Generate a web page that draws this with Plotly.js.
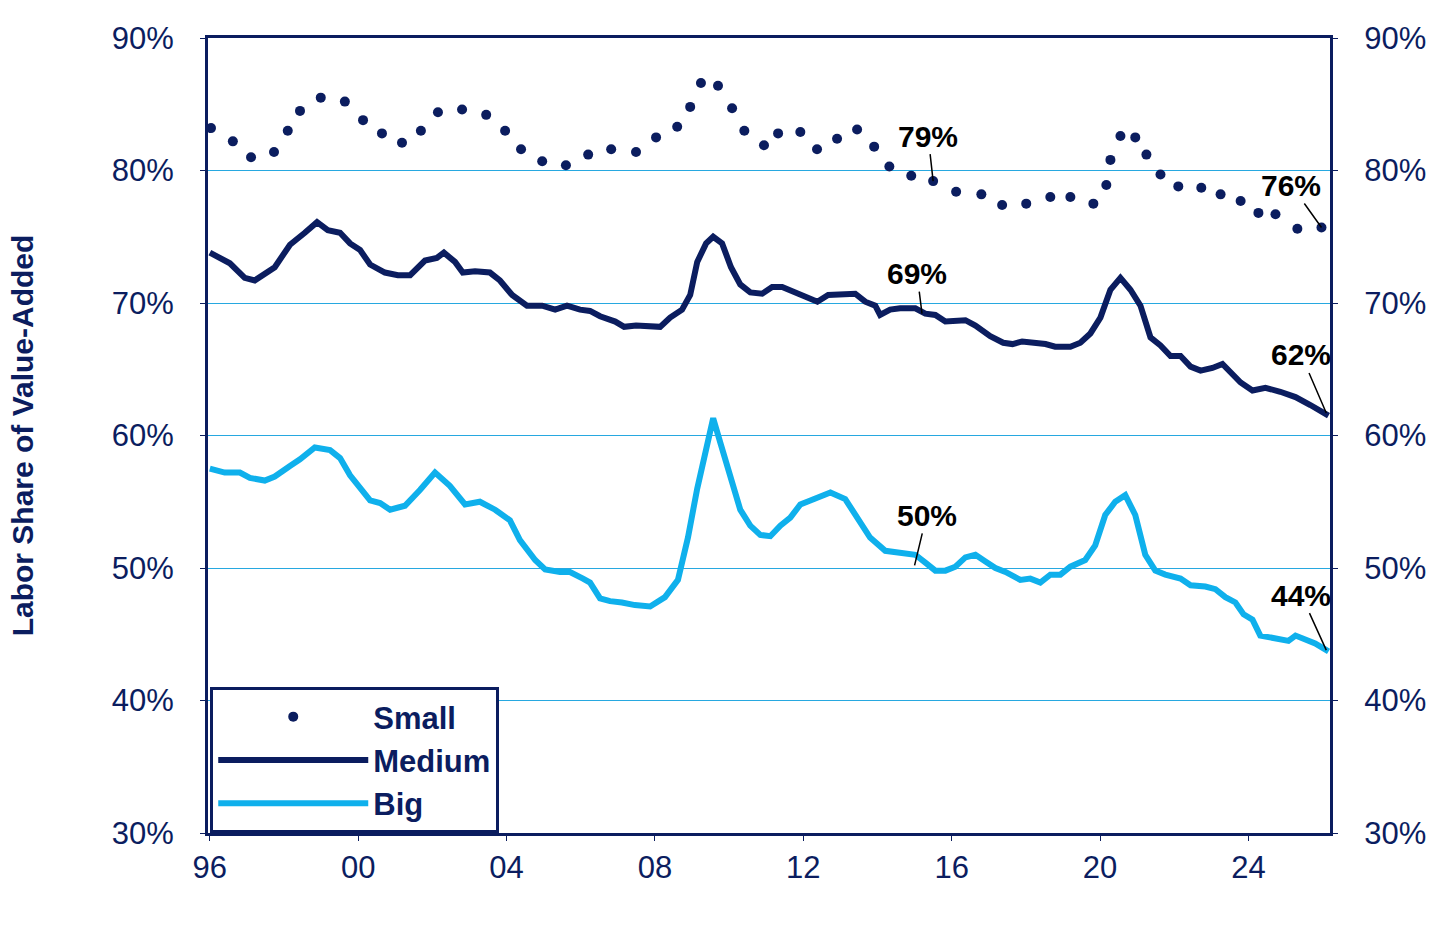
<!DOCTYPE html>
<html>
<head>
<meta charset="utf-8">
<script src="https://cdn.plot.ly/plotly-3.0.1.min.js"></script>
<style>body{margin:0;background:#fff}#chart{width:1456px;height:941px}</style>
</head>
<body>
<div id="chart"></div>
<script>
// labor share of value-added, by firm size
const smallYears = [1996.03,1996.62,1997.11,1997.73,1998.10,1998.43,1998.99,1999.64,2000.13,2000.64,2001.18,2001.69,2002.15,2002.80,2003.45,2003.96,2004.39,2004.96,2005.60,2006.20,2006.82,2007.49,2008.03,2008.60,2008.95,2009.24,2009.70,2010.08,2010.41,2010.94,2011.32,2011.92,2012.37,2012.91,2013.45,2013.91,2014.32,2014.91,2015.50,2016.12,2016.80,2017.36,2018.01,2018.66,2019.20,2019.82,2020.17,2020.28,2020.55,2020.95,2021.25,2021.63,2022.11,2022.73,2023.25,2023.79,2024.27,2024.73,2025.32,2025.97];
const smallVals = [83.2,82.2,81.0,81.4,83.0,84.5,85.5,85.2,83.8,82.8,82.1,83.0,84.4,84.6,84.2,83.0,81.6,80.7,80.4,81.2,81.6,81.4,82.5,83.3,84.8,86.6,86.4,84.7,83.0,81.9,82.8,82.9,81.6,82.4,83.1,81.8,80.3,79.6,79.2,78.4,78.2,77.4,77.5,78.0,78.0,77.5,78.9,80.8,82.6,82.5,81.2,79.7,78.8,78.7,78.2,77.7,76.8,76.7,75.6,75.7];

const mediumYears = [1996.00,1996.54,1996.94,1997.21,1997.75,1998.16,1998.56,1998.89,1999.18,1999.51,1999.78,2000.05,2000.32,2000.72,2001.07,2001.40,2001.80,2002.12,2002.31,2002.61,2002.82,2003.15,2003.55,2003.82,2004.15,2004.55,2004.96,2005.31,2005.63,2005.98,2006.25,2006.52,2006.93,2007.17,2007.49,2007.87,2008.14,2008.41,2008.73,2008.95,2009.14,2009.38,2009.57,2009.81,2010.05,2010.30,2010.57,2010.89,2011.16,2011.43,2011.78,2012.05,2012.38,2012.67,2013.05,2013.40,2013.67,2013.94,2014.07,2014.34,2014.61,2015.02,2015.29,2015.56,2015.83,2016.10,2016.37,2016.64,2017.04,2017.39,2017.64,2017.90,2018.26,2018.53,2018.79,2019.20,2019.47,2019.74,2020.01,2020.28,2020.55,2020.82,2021.09,2021.36,2021.63,2021.90,2022.17,2022.44,2022.71,2023.03,2023.30,2023.52,2023.79,2024.11,2024.46,2024.86,2025.27,2025.67,2026.16];
const mediumVals = [73.8,73.0,71.9,71.7,72.7,74.4,75.3,76.1,75.5,75.3,74.5,74.0,72.9,72.3,72.1,72.1,73.2,73.4,73.8,73.1,72.3,72.4,72.3,71.7,70.6,69.8,69.8,69.5,69.8,69.5,69.4,69.0,68.6,68.2,68.3,68.3,68.2,68.9,69.5,70.6,73.1,74.5,75.0,74.5,72.7,71.4,70.8,70.7,71.2,71.2,70.8,70.5,70.1,70.6,70.7,70.7,70.1,69.8,69.1,69.5,69.6,69.6,69.2,69.1,68.6,68.7,68.7,68.3,67.5,67.0,66.9,67.1,67.0,66.9,66.7,66.7,67.0,67.7,68.9,71.0,71.9,71.0,69.8,67.4,66.8,66.0,66.0,65.2,64.9,65.1,65.4,64.8,64.0,63.4,63.6,63.3,62.9,62.3,61.5];

const bigYears = [1996.00,1996.40,1996.81,1997.08,1997.48,1997.75,1998.16,1998.43,1998.83,1999.24,1999.51,1999.78,2000.32,2000.59,2000.86,2001.26,2001.67,2002.07,2002.47,2002.88,2003.28,2003.69,2004.09,2004.36,2004.77,2005.04,2005.44,2005.71,2006.06,2006.25,2006.52,2006.79,2007.11,2007.46,2007.87,2008.27,2008.62,2008.89,2009.14,2009.38,2009.57,2009.78,2010.05,2010.30,2010.57,2010.84,2011.11,2011.38,2011.65,2011.92,2012.19,2012.51,2012.73,2013.13,2013.40,2013.80,2014.21,2014.61,2015.02,2015.29,2015.56,2015.83,2016.10,2016.37,2016.64,2016.91,2017.18,2017.45,2017.85,2018.12,2018.39,2018.66,2018.93,2019.20,2019.60,2019.87,2020.14,2020.41,2020.68,2020.95,2021.22,2021.49,2021.76,2022.17,2022.44,2022.84,2023.11,2023.38,2023.65,2023.87,2024.11,2024.32,2024.73,2025.08,2025.27,2025.54,2025.80,2026.16];
const bigVals = [57.5,57.2,57.2,56.8,56.6,56.9,57.7,58.2,59.1,58.9,58.3,57.0,55.1,54.9,54.4,54.7,55.9,57.2,56.2,54.8,55.0,54.4,53.6,52.1,50.6,49.9,49.7,49.7,49.2,48.9,47.7,47.5,47.4,47.2,47.1,47.8,49.1,52.3,56.0,59.1,61.3,59.3,56.6,54.4,53.2,52.5,52.4,53.2,53.8,54.8,55.1,55.4,55.7,55.2,54.1,52.3,51.3,51.1,51.0,50.4,49.8,49.8,50.1,50.8,51.0,50.5,50.0,49.7,49.1,49.2,48.9,49.5,49.5,50.1,50.6,51.7,54.0,55.0,55.5,54.0,51.0,49.8,49.5,49.2,48.7,48.6,48.4,47.8,47.4,46.5,46.1,44.9,44.7,44.5,44.9,44.6,44.3,43.7];

const tickYears = [1996,2000,2004,2008,2012,2016,2020,2024];
const tickText = ['96','00','04','08','12','16','20','24'];
const yTicks = [30,40,50,60,70,80,90];

// value labels: [year, value, text, ax, ay]
const labels = [
  [2015.5, 79.2, '79%', -5, -45],
  [2025.97, 75.7, '76%', -30, -42],
  [2015.2, 69.2, '69%', -5, -40],
  [2026.1, 61.7, '62%', -25, -58],
  [2015.0, 50.2, '50%', 12, -50],
  [2026.1, 43.8, '44%', -25, -55]
];

const navy = '#0b1d5f';
const sky = '#0fb0ec';

const traces = [
  {x: smallYears, y: smallVals, name: 'Small', mode: 'markers', type: 'scatter',
   marker: {size: 10, color: navy}},
  {x: mediumYears, y: mediumVals, name: 'Medium', mode: 'lines', type: 'scatter',
   line: {width: 6, color: navy}},
  {x: bigYears, y: bigVals, name: 'Big', mode: 'lines', type: 'scatter',
   line: {width: 6, color: sky}},
  {x: [1996, 2026.2], y: [30, 30], yaxis: 'y2', mode: 'lines', showlegend: false,
   hoverinfo: 'skip', line: {width: 0}}
];

const axisFont = {family: 'Liberation Sans, Arial', size: 31, color: navy};

const layout = {
  width: 1456, height: 941,
  margin: {l: 208, r: 126, t: 38, b: 108},
  paper_bgcolor: '#fff', plot_bgcolor: '#fff',
  showlegend: true,
  legend: {x: 0.002, y: 0, xanchor: 'left', yanchor: 'bottom',
    bgcolor: '#fff', bordercolor: navy, borderwidth: 3,
    font: {family: 'Liberation Sans, Arial', size: 31, color: navy, weight: 'bold'},
    itemwidth: 150, entrywidth: 330, entrywidthmode: 'pixels'},
  xaxis: {range: [1995.95, 2026.2], tickvals: tickYears, ticktext: tickText,
    tickfont: axisFont, showgrid: false, zeroline: false,
    showline: true, linecolor: navy, linewidth: 3, mirror: true,
    ticks: 'outside', ticklen: 5, tickcolor: navy},
  yaxis: {range: [30, 90], tickvals: yTicks, ticktext: yTicks.map(v => v + '%'),
    tickfont: axisFont, showgrid: true, gridcolor: '#27a8e0', gridwidth: 1.2,
    zeroline: false, showline: true, linecolor: navy, linewidth: 3,
    ticks: 'outside', ticklen: 5, tickcolor: navy, ticklabelstandoff: 20,
    title: {text: 'Labor Share of Value-Added', standoff: 70,
      font: {family: 'Liberation Sans, Arial', size: 30, color: navy, weight: 'bold'}}},
  yaxis2: {range: [30, 90], overlaying: 'y', side: 'right', tickvals: yTicks,
    ticktext: yTicks.map(v => v + '%'), tickfont: axisFont, showgrid: false,
    zeroline: false, showline: true, linecolor: navy, linewidth: 3,
    ticks: 'outside', ticklen: 5, tickcolor: navy, ticklabelstandoff: 20},
  annotations: labels.map(l => ({
    x: l[0], y: l[1], text: l[2], showarrow: true, arrowhead: 0, arrowwidth: 1.5,
    arrowcolor: '#000', ax: l[3], ay: l[4],
    font: {family: 'Liberation Sans, Arial', size: 30, color: '#000', weight: 'bold'}
  }))
};

Plotly.newPlot('chart', traces, layout, {displayModeBar: false});
</script>
</body>
</html>
